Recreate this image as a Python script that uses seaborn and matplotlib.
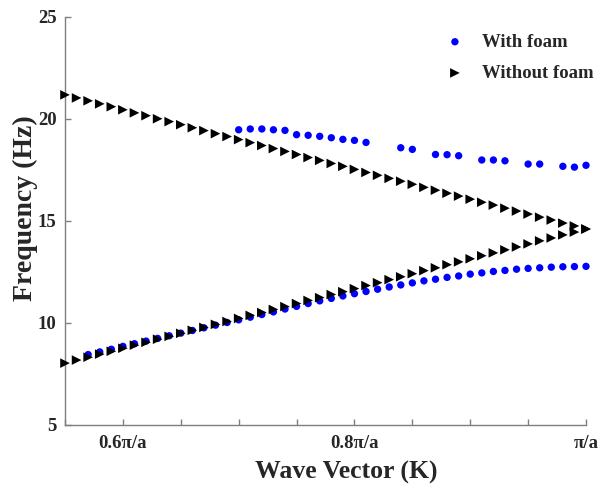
import pandas as pd
import matplotlib
matplotlib.use("Agg")
import matplotlib.pyplot as plt
import seaborn as sns
from matplotlib.ticker import FixedLocator, FixedFormatter, MultipleLocator

# --- Data (k in units of pi/a, frequency in Hz) ---
k_no_foam = [0.55, 0.56, 0.57, 0.58, 0.59, 0.60, 0.61, 0.62, 0.63, 0.64,
             0.65, 0.66, 0.67, 0.68, 0.69, 0.70, 0.71, 0.72, 0.73, 0.74,
             0.75, 0.76, 0.77, 0.78, 0.79, 0.80, 0.81, 0.82, 0.83, 0.84,
             0.85, 0.86, 0.87, 0.88, 0.89, 0.90, 0.91, 0.92, 0.93, 0.94,
             0.95, 0.96, 0.97, 0.98, 0.99, 1.00]
f_no_foam_upper = [21.17, 21.02, 20.88, 20.73, 20.59, 20.44, 20.29, 20.15, 20.00, 19.86,
                   19.71, 19.56, 19.42, 19.27, 19.13, 18.98, 18.83, 18.69, 18.54, 18.40,
                   18.25, 18.10, 17.96, 17.81, 17.67, 17.52, 17.37, 17.23, 17.08, 16.94,
                   16.79, 16.64, 16.50, 16.35, 16.21, 16.06, 15.91, 15.77, 15.62, 15.48,
                   15.33, 15.18, 15.04, 14.89, 14.75, 14.60]
f_no_foam_lower = [8.03, 8.18, 8.32, 8.47, 8.61, 8.76, 8.91, 9.05, 9.20, 9.34,
                   9.49, 9.64, 9.78, 9.93, 10.07, 10.22, 10.37, 10.51, 10.66, 10.80,
                   10.95, 11.10, 11.24, 11.39, 11.53, 11.68, 11.83, 11.97, 12.12, 12.26,
                   12.41, 12.56, 12.70, 12.85, 12.99, 13.14, 13.29, 13.43, 13.58, 13.72,
                   13.87, 14.02, 14.16, 14.31, 14.45, 14.60]

k_foam_lower = [0.57, 0.58, 0.59, 0.60, 0.61, 0.62, 0.63, 0.64, 0.65, 0.66,
                0.67, 0.68, 0.69, 0.70, 0.71, 0.72, 0.73, 0.74, 0.75, 0.76,
                0.77, 0.78, 0.79, 0.80, 0.81, 0.82, 0.83, 0.84, 0.85, 0.86,
                0.87, 0.88, 0.89, 0.90, 0.91, 0.92, 0.93, 0.94, 0.95, 0.96,
                0.97, 0.98, 0.99, 1.00]
f_foam_lower = [8.45, 8.58, 8.71, 8.85, 8.98, 9.11, 9.24, 9.37, 9.50, 9.63,
                9.76, 9.89, 10.02, 10.15, 10.28, 10.41, 10.54, 10.68, 10.81, 10.95,
                11.08, 11.20, 11.32, 11.43, 11.54, 11.65, 11.76, 11.86, 11.96, 12.06,
                12.14, 12.23, 12.30, 12.39, 12.45, 12.52, 12.57, 12.63, 12.67, 12.70,
                12.73, 12.75, 12.76, 12.77]

k_foam_upper = [0.70, 0.71, 0.72, 0.73, 0.74, 0.75, 0.76, 0.77, 0.78, 0.79,
                0.80, 0.81, 0.84, 0.85, 0.87, 0.88, 0.89, 0.91, 0.92, 0.93,
                0.95, 0.96, 0.98, 0.99, 1.00]
f_foam_upper = [19.46, 19.50, 19.50, 19.46, 19.43, 19.22, 19.19, 19.14, 19.07, 18.99,
                18.94, 18.84, 18.58, 18.50, 18.25, 18.24, 18.19, 17.98, 17.98, 17.94,
                17.78, 17.78, 17.67, 17.63, 17.72]

x_tick_pos = [0.6, 0.8, 1.0]
x_tick_labels = ["0.6\u03c0/a", "0.8\u03c0/a", "\u03c0/a"]
y_ticks = [5, 10, 15, 20, 25]

# --- Build tables ---
foam_df = pd.DataFrame({
    "k": k_foam_lower + k_foam_upper,
    "freq": f_foam_lower + f_foam_upper,
})
no_foam_df = pd.DataFrame({
    "k": k_no_foam + k_no_foam,
    "freq": f_no_foam_upper + f_no_foam_lower,
})

sns.set_theme(style="ticks")
plt.rcParams["font.family"] = ["Liberation Serif", "DejaVu Serif"]
plt.rcParams["font.weight"] = "bold"

fig = plt.figure(figsize=(6.11, 4.92), dpi=100)
ax = fig.add_axes([0.1064, 0.1362, 0.8527, 0.8299])

sns.scatterplot(data=foam_df, x="k", y="freq", ax=ax, color="#0000ff", marker="o",
                s=28, edgecolor="none", label="With foam", clip_on=False, zorder=2)
sns.scatterplot(data=no_foam_df, x="k", y="freq", ax=ax, color="black", marker=">",
                s=48, edgecolor="none", label="Without foam", clip_on=False, zorder=3)

ax.set_xlim(0.55, 1.0)
ax.set_ylim(5, 25)
ax.xaxis.set_major_locator(FixedLocator(x_tick_pos))
ax.xaxis.set_major_formatter(FixedFormatter(x_tick_labels))
ax.xaxis.set_minor_locator(MultipleLocator(0.05))
ax.set_yticks(y_ticks)

for side in ["top", "right"]:
    ax.spines[side].set_visible(False)
for side in ["left", "bottom"]:
    ax.spines[side].set_color("#7f7f7f")
    ax.spines[side].set_linewidth(1.0)

ax.tick_params(axis="both", which="both", direction="in", color="#7f7f7f",
               labelsize=13.5, width=1.0, length=4)
ax.tick_params(axis="x", which="major", pad=7)
ax.tick_params(axis="y", which="major", pad=6)
for lab in ax.get_xticklabels() + ax.get_yticklabels():
    lab.set_fontweight("bold")

ax.set_xlabel("Wave Vector (K)", fontsize=18.5, fontweight="bold")
ax.set_ylabel("Frequency (Hz)", fontsize=20, fontweight="bold")
ax.xaxis.set_label_coords(0.539, -0.088)
ax.yaxis.set_label_coords(-0.052, 0.53)

ax.legend(loc="upper left", bbox_to_anchor=(0.689, 1.0), frameon=False,
          prop={"weight": "bold", "size": 13.5}, labelspacing=0.75,
          handlelength=1.5, handletextpad=0.7)

fig.savefig("out.png", dpi=100)
